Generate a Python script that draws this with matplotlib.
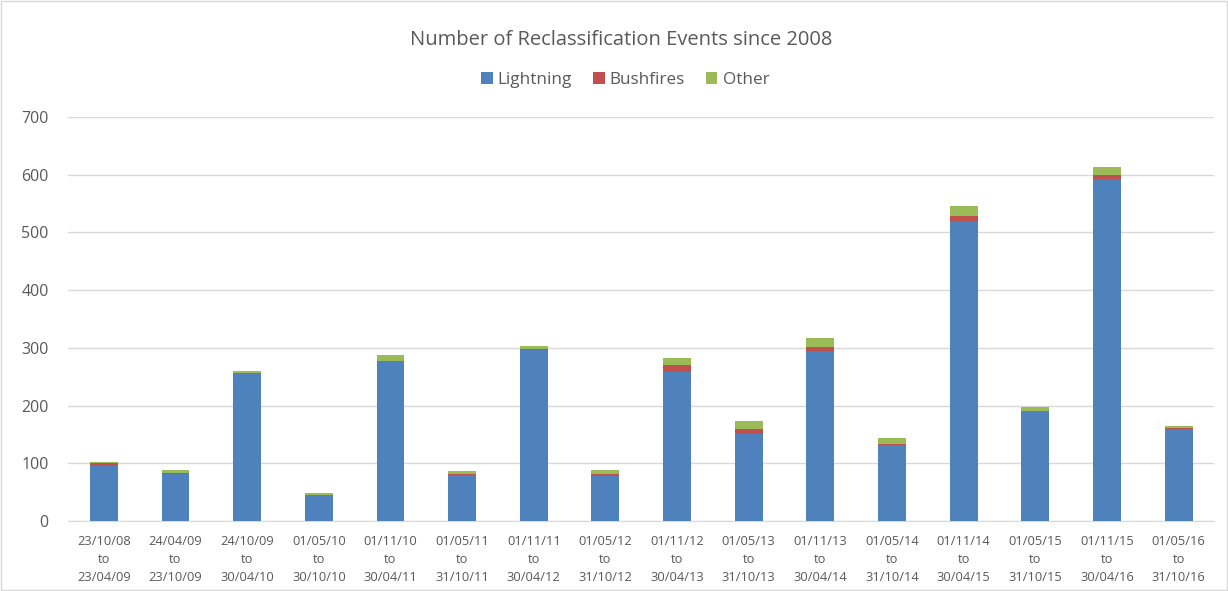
import matplotlib
matplotlib.use("Agg")
import matplotlib.pyplot as plt
import numpy as np
from matplotlib.patches import Rectangle

categories = ["23/10/08\nto\n23/04/09", "24/04/09\nto\n23/10/09", "24/10/09\nto\n30/04/10",
              "01/05/10\nto\n30/10/10", "01/11/10\nto\n30/04/11", "01/05/11\nto\n31/10/11",
              "01/11/11\nto\n30/04/12", "01/05/12\nto\n31/10/12", "01/11/12\nto\n30/04/13",
              "01/05/13\nto\n31/10/13", "01/11/13\nto\n30/04/14", "01/05/14\nto\n31/10/14",
              "01/11/14\nto\n30/04/15", "01/05/15\nto\n31/10/15", "01/11/15\nto\n30/04/16",
              "01/05/16\nto\n31/10/16"]
lightning = [96, 82, 256, 45, 277, 80, 297, 78, 259, 151, 295, 132, 520, 190, 593, 160]
bushfires = [5, 2, 1, 0, 1, 2, 1, 3, 12, 9, 7, 2, 8, 1, 6, 1]
other = [1, 4, 3, 3, 10, 5, 6, 7, 11, 14, 15, 9, 18, 7, 15, 4]
yticks = [0, 100, 200, 300, 400, 500, 600, 700]

plt.rcParams['font.family'] = ['Open Sans', 'DejaVu Sans']
txt = '#595959'
fig = plt.figure(figsize=(12.28, 5.91), dpi=100)
ax = fig.add_axes([0.0554, 0.1184, 0.9336, 0.6836])
x = np.arange(len(categories))
L = np.array(lightning); B = np.array(bushfires); O = np.array(other)
w = 0.39
ax.bar(x, L, w, color='#4F81BD', label='Lightning', zorder=3)
ax.bar(x, B, w, bottom=L, color='#C0504D', label='Bushfires', zorder=3)
ax.bar(x, O, w, bottom=L + B, color='#9BBB59', label='Other', zorder=3)
ax.set_xlim(-0.5, len(categories) - 0.5)
ax.set_ylim(0, 700)
ax.set_yticks(yticks)
ax.set_yticklabels([str(v) for v in yticks], fontsize=11.5, color=txt)
ax.set_xticks(x)
ax.set_xticklabels(categories, fontsize=9.3, color=txt, linespacing=1.5)
ax.tick_params(length=0)
ax.tick_params(axis='y', pad=14)
ax.tick_params(axis='x', pad=10)
ax.grid(axis='y', color='#D9D9D9', linewidth=1, zorder=0)
for s in ['top', 'right', 'left']:
    ax.spines[s].set_visible(False)
ax.spines['bottom'].set_color('#D9D9D9')
fig.text(0.5055, 0.933, 'Number of Reclassification Events since 2008', ha='center', va='center',
         fontsize=14.5, color=txt)
leg = fig.legend(loc='center', bbox_to_anchor=(0.509, 0.864), ncol=3, frameon=False,
                 fontsize=12.3, handlelength=0.7, handleheight=0.7, handletextpad=0.3,
                 columnspacing=1.2)
for t in leg.get_texts():
    t.set_color(txt)
fig.patches.append(Rectangle((0.001, 0.001), 0.998, 0.998, transform=fig.transFigure,
                             fill=False, edgecolor='#D9D9D9', linewidth=1))
fig.savefig('out.png', dpi=100)
